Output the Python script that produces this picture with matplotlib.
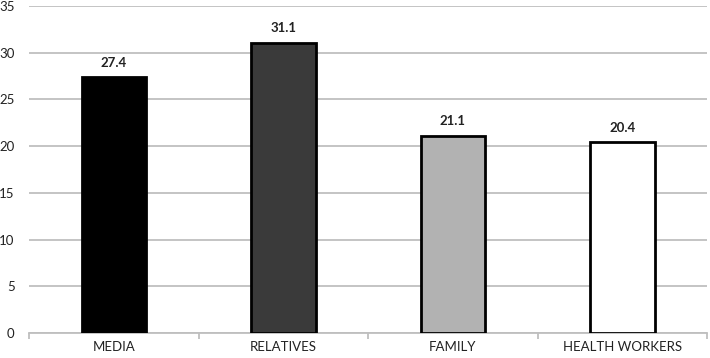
import matplotlib
matplotlib.use("Agg")
import matplotlib.pyplot as plt
import numpy as np

categories = ["MEDIA", "RELATIVES", "FAMILY", "HEALTH WORKERS"]
values = [27.4, 31.1, 21.1, 20.4]
colors = ["#000000", "#3a3a3a", "#b2b2b2", "#ffffff"]
yticks = [0, 5, 10, 15, 20, 25, 30, 35]

plt.rcParams['font.family'] = ['Lato', 'DejaVu Sans']

fig = plt.figure(figsize=(7.1, 3.58), dpi=100)
ax = fig.add_axes([0.041, 0.07, 0.955, 0.913])

x = np.arange(len(categories))
bars = ax.bar(x, values, width=0.38, color=colors, edgecolor="#000000", linewidth=2, zorder=3)
for xi, v in zip(x, values):
    ax.text(xi, v + 0.9, f"{v}", ha="center", va="bottom", fontsize=9.5, fontweight="bold", color="#222222")

ax.set_xlim(-0.5, len(categories) - 0.5)
ax.set_ylim(0, 35)
ax.set_yticks(yticks)
ax.set_yticklabels([str(t) for t in yticks], fontsize=9.5, color="#222222")
ax.yaxis.grid(True, color="#bfbfbf", linewidth=1.3, zorder=0)
ax.tick_params(axis="y", length=0, pad=10.5)

ax.set_xticks(x)
ax.set_xticklabels(categories, fontsize=9.5, color="#222222")
ax.tick_params(axis="x", length=0, pad=6)
ax.set_xticks(np.arange(-0.5, len(categories)), minor=True)
ax.tick_params(axis="x", which="minor", length=4, color="#bfbfbf", width=1.3)

for s in ["top", "right", "left"]:
    ax.spines[s].set_visible(False)
ax.spines["bottom"].set_color("#bfbfbf")
ax.spines["bottom"].set_linewidth(1.3)

fig.savefig("out.png", dpi=100)
